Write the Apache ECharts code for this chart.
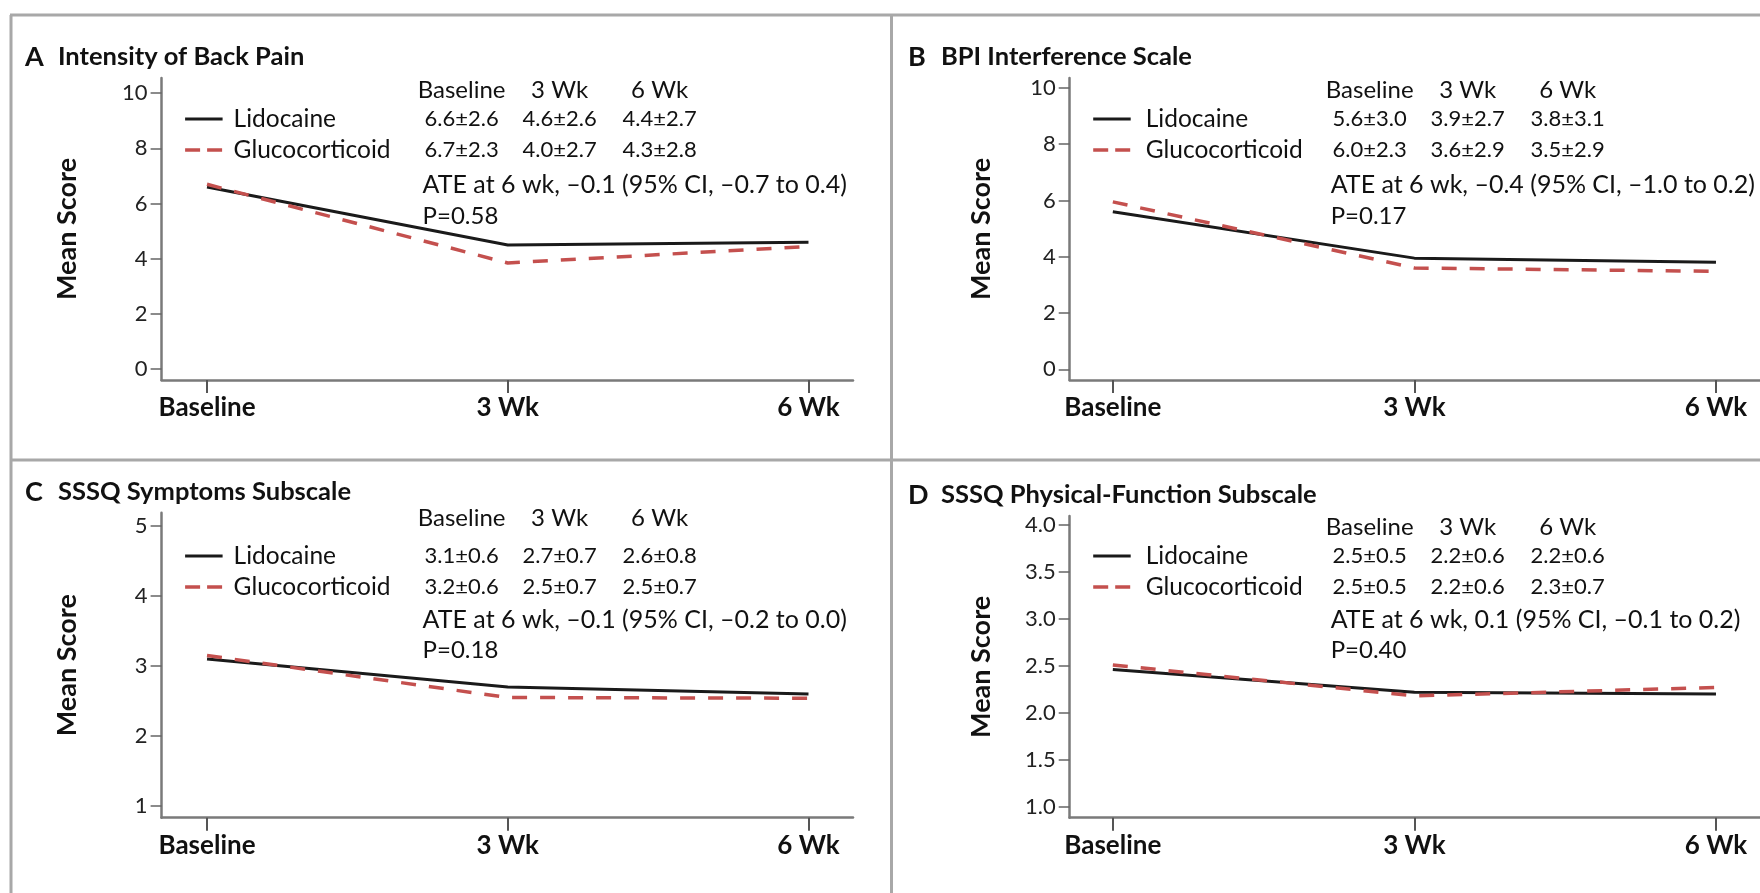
<!DOCTYPE html>
<html><head><meta charset="utf-8">
<style>html,body{margin:0;padding:0;background:#fff}#c{width:1760px;height:893px}</style>
<script src="https://cdn.jsdelivr.net/npm/echarts@6/dist/echarts.min.js"></script>
</head><body><div id="c"></div>
<script>
// ---------- data ----------
const categories = ['Baseline', '3 Wk', '6 Wk'];
const seriesNames = ['Lidocaine', 'Glucocorticoid'];
const panelLetters = ['A', 'B', 'C', 'D'];
const panelTitles = ['Intensity of Back Pain', 'BPI Interference Scale', 'SSSQ Symptoms Subscale', 'SSSQ Physical-Function Subscale'];
const yAxisName = 'Mean Score';

const yTicksA = [0, 2, 4, 6, 8, 10];
const yTicksB = [0, 2, 4, 6, 8, 10];
const yTicksC = [1, 2, 3, 4, 5];
const yTicksD = [1.0, 1.5, 2.0, 2.5, 3.0, 3.5, 4.0];

const lidoA = [6.6, 4.5, 4.6];
const glucoA = [6.7, 3.85, 4.45];
const lidoB = [5.6, 3.95, 3.8];
const glucoB = [5.95, 3.6, 3.48];
const lidoC = [3.1, 2.7, 2.6];
const glucoC = [3.15, 2.55, 2.54];
const lidoD = [2.46, 2.22, 2.2];
const glucoD = [2.51, 2.18, 2.27];

const tableLidoA = ['6.6±2.6', '4.6±2.6', '4.4±2.7'];
const tableGlucoA = ['6.7±2.3', '4.0±2.7', '4.3±2.8'];
const tableLidoB = ['5.6±3.0', '3.9±2.7', '3.8±3.1'];
const tableGlucoB = ['6.0±2.3', '3.6±2.9', '3.5±2.9'];
const tableLidoC = ['3.1±0.6', '2.7±0.7', '2.6±0.8'];
const tableGlucoC = ['3.2±0.6', '2.5±0.7', '2.5±0.7'];
const tableLidoD = ['2.5±0.5', '2.2±0.6', '2.2±0.6'];
const tableGlucoD = ['2.5±0.5', '2.2±0.6', '2.3±0.7'];

const ateTexts = [
  'ATE at 6 wk, \u20130.1 (95% CI, \u20130.7 to 0.4)',
  'ATE at 6 wk, \u20130.4 (95% CI, \u20131.0 to 0.2)',
  'ATE at 6 wk, \u20130.1 (95% CI, \u20130.2 to 0.0)',
  'ATE at 6 wk, 0.1 (95% CI, \u20130.1 to 0.2)'
];
const pTexts = ['P=0.58', 'P=0.17', 'P=0.18', 'P=0.40'];

// ---------- layout / style ----------
const FONT = 'Lato, "Open Sans", sans-serif';
const BLACK = '#1a1a1a';
const RED = '#c4504e';
const layout = [
  { left: 161.6, right: 853, top: 78, bottom: 380, yMin: -0.39, yMax: 10.55, xMin: -0.151, xMax: 2.148, titleY: 57, rows: [90, 119, 150, 185, 216], legLab: 72, nameX: 67, yTicks: yTicksA, dec: 0, lido: lidoA, gluco: glucoA, tl: tableLidoA, tg: tableGlucoA },
  { left: 1069.7, right: 1760, top: 78, bottom: 380, yMin: -0.38, yMax: 10.35, xMin: -0.143, xMax: 2.146, titleY: 57, rows: [90, 119, 150, 185, 216], legLab: 76, nameX: 981, yTicks: yTicksB, dec: 0, lido: lidoB, gluco: glucoB, tl: tableLidoB, tg: tableGlucoB },
  { left: 161.6, right: 853, top: 512.7, bottom: 817.7, yMin: 0.833, yMax: 5.19, xMin: -0.151, xMax: 2.148, titleY: 492, rows: [518, 556, 587, 619.5, 650.5], legLab: 72, nameX: 67, yTicks: yTicksC, dec: 0, lido: lidoC, gluco: glucoC, tl: tableLidoC, tg: tableGlucoC },
  { left: 1069.7, right: 1760, top: 516, bottom: 817.7, yMin: 0.883, yMax: 4.096, xMin: -0.143, xMax: 2.146, titleY: 495, rows: [527, 556, 587, 620, 650.5], legLab: 76, nameX: 981, yTicks: yTicksD, dec: 1, lido: lidoD, gluco: glucoD, tl: tableLidoD, tg: tableGlucoD }
];

const grids = [], xAxes = [], yAxes = [], series = [], graphics = [];
const axisLineStyle = { color: '#7a7a7a', width: 2.5 };
const TXT = { fill: '#111', verticalAlign: 'middle', textVerticalAlign: 'middle' };

layout.forEach((p, i) => {
  grids.push({ left: p.left, top: p.top, width: p.right - p.left, height: p.bottom - p.top, containLabel: false });
  xAxes.push({
    type: 'value', gridIndex: i, min: p.xMin, max: p.xMax,
    splitLine: { show: false },
    axisLine: { show: true, onZero: false, lineStyle: axisLineStyle },
    axisTick: { show: true, length: 13, customValues: [0, 1, 2], lineStyle: { color: '#555', width: 2 } },
    axisLabel: { customValues: [0, 1, 2], margin: 15, formatter: v => categories[Math.round(v)],
      fontFamily: FONT, fontWeight: 'bold', fontSize: 26, color: '#111' }
  });
  yAxes.push({
    type: 'value', gridIndex: i, min: p.yMin, max: p.yMax,
    splitLine: { show: false },
    axisLine: { show: true, onZero: false, lineStyle: axisLineStyle },
    axisTick: { show: true, length: 11, customValues: p.yTicks, lineStyle: { color: '#666', width: 1.5 } },
    axisLabel: { customValues: p.yTicks, margin: 14, formatter: v => v.toFixed(p.dec),
      fontFamily: FONT, fontSize: 22, color: '#222' },
    name: yAxisName, nameLocation: 'middle', nameRotate: 90, nameGap: p.left - p.nameX, nameMoveOverlap: false,
    nameTextStyle: { fontFamily: FONT, fontWeight: 'bold', fontSize: 27, color: '#111', verticalAlign: 'middle' }
  });
  series.push({
    name: seriesNames[0], type: 'line', xAxisIndex: i, yAxisIndex: i, symbol: 'none', silent: true,
    lineStyle: { color: BLACK, width: 3 }, z: 3,
    data: p.lido.map((v, k) => [k, v])
  });
  series.push({
    name: seriesNames[1], type: 'line', xAxisIndex: i, yAxisIndex: i, symbol: 'none', silent: true,
    lineStyle: { color: RED, width: 3.5, type: [15, 13] }, z: 4,
    data: p.gluco.map((v, k) => [k, v])
  });

  const px0 = i % 2 ? 908 : 25;
  graphics.push({ type: 'text', style: Object.assign({ x: px0, y: p.titleY, text: panelLetters[i], font: 'bold 27px ' + FONT }, TXT) });
  graphics.push({ type: 'text', style: Object.assign({ x: px0 + 33, y: p.titleY, text: panelTitles[i], font: 'bold 25.5px ' + FONT }, TXT) });

  // legend samples
  const lx0 = p.left + 23.5, lx1 = p.left + 61;
  graphics.push({ type: 'line', shape: { x1: lx0, y1: p.rows[1], x2: lx1, y2: p.rows[1] }, style: { stroke: BLACK, lineWidth: 3 } });
  graphics.push({ type: 'line', shape: { x1: lx0, y1: p.rows[2], x2: lx1, y2: p.rows[2] }, style: { stroke: RED, lineWidth: 3.5, lineDash: [15, 7] } });
  graphics.push({ type: 'text', style: Object.assign({ x: p.left + p.legLab, y: p.rows[1], text: seriesNames[0], font: '24.5px ' + FONT }, TXT) });
  graphics.push({ type: 'text', style: Object.assign({ x: p.left + p.legLab, y: p.rows[2], text: seriesNames[1], font: '24.5px ' + FONT }, TXT) });

  // table
  const cols = [p.left + 300, p.left + 398, p.left + 498];
  const rowsData = [categories, p.tl, p.tg];
  rowsData.forEach((row, r) => {
    row.forEach((t, c) => {
      graphics.push({ type: 'text', style: Object.assign({ x: cols[c], y: p.rows[r], text: t, font: (r === 0 ? '24px ' : '22px ') + FONT, align: 'center', textAlign: 'center' }, TXT) });
    });
  });
  graphics.push({ type: 'text', style: Object.assign({ x: p.left + 261, y: p.rows[3], text: ateTexts[i], font: '25px ' + FONT }, TXT) });
  graphics.push({ type: 'text', style: Object.assign({ x: p.left + 261, y: p.rows[4], text: pTexts[i], font: '24px ' + FONT }, TXT) });
});

// panel borders
const bStyle = { stroke: '#a8a8a8', lineWidth: 3 };
[[10, 15, 1760, 15], [11, 15, 11, 893], [891.5, 15, 891.5, 893], [10, 460, 1760, 460]].forEach(s => {
  graphics.push({ type: 'line', shape: { x1: s[0], y1: s[1], x2: s[2], y2: s[3] }, style: bStyle, z: 0 });
});

const chart = echarts.init(document.getElementById('c'));
chart.setOption({
  animation: false,
  backgroundColor: '#fff',
  grid: grids, xAxis: xAxes, yAxis: yAxes, series: series,
  graphic: graphics
});
</script></body></html>
